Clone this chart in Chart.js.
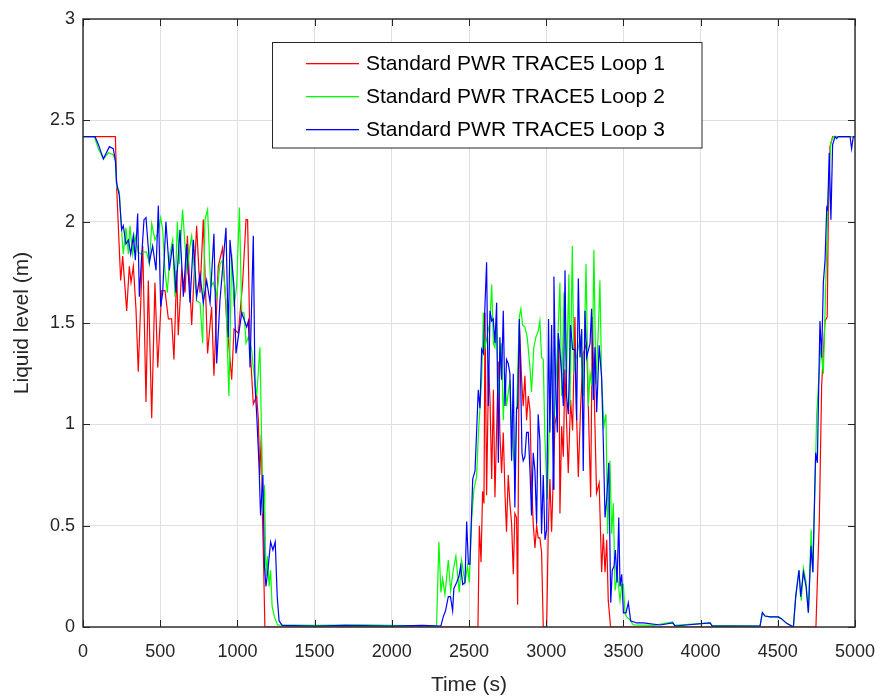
<!DOCTYPE html>
<html>
<head>
<meta charset="utf-8">
<script src="https://cdn.jsdelivr.net/npm/chart.js@4.4.1/dist/chart.umd.min.js"></script>
<style>
  html, body { margin: 0; padding: 0; background: #ffffff; }
  #c { display: block; }
</style>
</head>
<body>
<canvas id="c" width="883" height="698"></canvas>
<script>
// ---------------- DATA ----------------
const seriesNames = ['Standard PWR TRACE5 Loop 1', 'Standard PWR TRACE5 Loop 2', 'Standard PWR TRACE5 Loop 3'];
const xTickValues = [0, 500, 1000, 1500, 2000, 2500, 3000, 3500, 4000, 4500, 5000];
const yTickValues = [0, 0.5, 1, 1.5, 2, 2.5, 3];
const xTitle = 'Time (s)';
const yTitle = 'Liquid level (m)';

const loop1Time = [0, 210, 218, 244, 257, 283, 300, 311, 326, 343, 358, 387, 408, 423, 445, 466, 484, 510, 531, 553, 574, 589, 607, 617, 639, 661, 676, 704, 736, 758, 779, 807, 833, 848, 876, 904, 930, 963, 978, 1006, 1034, 1056, 1066, 1082, 1103, 1125, 1136, 1145, 1155, 1162, 1170, 1178,
  2558, 2567, 2578, 2588, 2597, 2604, 2614, 2627, 2636, 2647, 2658, 2668, 2690, 2700, 2711, 2722, 2733, 2743, 2754, 2765, 2776, 2787, 2797, 2808, 2815, 2826, 2841, 2851, 2862, 2873, 2884, 2895, 2905, 2916, 2927, 2938, 2948, 2959, 2970, 2981, 3003, 3014, 3024, 3035, 3046, 3057, 3068, 3082, 3089, 3100, 3111, 3121, 3132, 3143, 3158, 3171, 3186, 3197, 3208, 3223, 3240, 3262, 3288, 3299, 3311, 3326, 3343, 3359, 3370, 3381, 3392, 3402, 3417,
  4747, 4769, 4784, 4806, 4820, 4827, 4838, 4855, 5000];
const loop1Level = [2.42, 2.42, 2.17, 1.71, 1.83, 1.56, 1.78, 1.70, 1.78, 1.57, 1.26, 1.88, 1.11, 1.71, 1.03, 1.70, 1.28, 1.66, 1.66, 1.52, 1.52, 1.32, 1.76, 1.44, 1.76, 1.65, 1.93, 1.49, 1.98, 1.65, 2.01, 1.35, 1.58, 1.24, 1.78, 1.87, 1.52, 1.22, 1.47, 1.45, 1.70, 2.01, 2.01, 1.38, 1.10, 1.14, 1.02, 0.75, 0.95, 0.55, 0.30, 0.0,
  0.0, 0.50, 0.32, 0.67, 0.61, 1.55, 0.65, 1.28, 1.12, 0.73, 1.17, 0.64, 1.31, 0.96, 0.76, 0.96, 0.66, 0.47, 0.75, 0.61, 0.51, 0.26, 0.56, 0.54, 0.11, 1.49, 1.22, 1.09, 1.24, 1.02, 1.14, 1.07, 0.71, 0.51, 0.39, 0.50, 0.44, 0.44, 0.37, 0.0, 0.0, 0.50, 0.73, 0.47, 0.74, 1.00, 1.05, 1.42, 0.56, 0.99, 0.84, 1.27, 1.01, 0.76, 1.12, 0.97, 1.53, 1.04, 0.74, 1.09, 1.35, 1.40, 0.64, 1.53, 1.15, 0.66, 0.71, 0.27, 0.46, 0.27, 0.43, 0.13, 0.0,
  0.0, 0.53, 1.19, 1.51, 1.53, 2.01, 2.37, 2.42, 2.42];

const loop2Time = [0, 73, 100, 132, 165, 196, 210, 218, 235, 250, 261, 278, 294, 304, 322, 337, 358, 373, 391, 412, 430, 445, 466, 488, 503, 516, 531, 546, 563, 581, 596, 611, 624, 645, 661, 676, 693, 704, 719, 736, 758, 775, 790, 807, 827, 844, 866, 887, 904, 926, 945, 963, 978, 995, 1013, 1028, 1043, 1056, 1071, 1092, 1103, 1125, 1146, 1155, 1165, 1175, 1185, 1195, 1205, 1215, 1225, 1240, 1260, 1500, 1800, 2000, 2290,
  2305, 2318, 2329, 2344, 2366, 2381, 2398, 2415, 2437, 2452, 2474, 2490, 2502, 2517, 2532, 2549, 2560, 2582, 2593, 2604, 2636, 2647, 2658, 2668, 2679, 2690, 2711, 2722, 2733, 2743, 2765, 2776, 2797, 2826, 2836, 2847, 2862, 2877, 2895, 2905, 2920, 2933, 2948, 2959, 2970, 2981, 2992, 3007, 3020, 3035, 3046, 3072, 3089, 3100, 3115, 3132, 3147, 3154, 3169, 3180, 3208, 3223, 3240, 3258, 3273, 3284, 3297, 3309, 3322, 3338, 3348, 3359, 3374, 3387, 3398, 3413, 3424, 3435, 3446, 3461, 3478, 3489, 3500, 3510, 3521, 3543, 3564,
  3700, 3819, 3830, 4061, 4075, 4385, 4400, 4417, 4450, 4503, 4525, 4557, 4590, 4601, 4616, 4637, 4652, 4666, 4683, 4698, 4716, 4727, 4752, 4778, 4795, 4813, 4827, 4843, 4860, 5000];
const loop2Level = [2.42, 2.42, 2.36, 2.31, 2.34, 2.33, 2.30, 2.17, 2.15, 1.96, 1.84, 1.97, 1.84, 1.98, 1.84, 1.93, 1.85, 1.84, 1.85, 1.85, 1.79, 1.99, 1.91, 1.95, 2.02, 1.96, 1.76, 1.65, 1.84, 1.91, 1.63, 2.00, 1.79, 2.06, 1.88, 1.76, 1.88, 1.93, 1.78, 1.61, 1.60, 1.40, 2.01, 2.06, 1.68, 1.70, 1.63, 1.79, 1.81, 1.61, 1.14, 1.84, 1.58, 1.68, 2.07, 1.55, 1.55, 1.40, 1.43, 1.37, 1.28, 1.14, 1.38, 1.00, 0.56, 0.70, 0.25, 0.35, 0.20, 0.28, 0.10, 0.05, 0.01, 0.008, 0.01, 0.008, 0.005,
  0.42, 0.17, 0.24, 0.16, 0.33, 0.18, 0.28, 0.35, 0.17, 0.33, 0.22, 0.30, 0.22, 0.53, 0.68, 0.74, 0.94, 1.22, 1.55, 1.38, 1.51, 1.69, 1.40, 1.38, 1.48, 1.14, 1.40, 1.02, 1.25, 1.09, 1.22, 0.99, 0.76, 1.53, 1.57, 1.49, 1.48, 1.43, 1.28, 1.16, 1.38, 1.43, 1.46, 1.51, 1.33, 1.32, 0.92, 0.63, 0.99, 1.38, 0.92, 1.36, 1.70, 1.14, 1.65, 1.25, 1.74, 1.09, 1.88, 1.27, 1.38, 1.43, 1.14, 1.79, 1.09, 1.25, 1.19, 1.86, 1.20, 1.47, 1.71, 1.22, 0.99, 1.05, 0.46, 0.82, 0.46, 0.61, 0.18, 0.26, 0.13, 0.21, 0.21, 0.07, 0.05, 0.035, 0.01,
  0.008, 0.025, 0.008, 0.02, 0.008, 0.005, 0.07, 0.054, 0.05, 0.05, 0.04, 0.018, 0.005, 0.0, 0.15, 0.28, 0.13, 0.29, 0.22, 0.07, 0.48, 0.27, 1.05, 1.38, 1.25, 1.76, 2.14, 2.39, 2.42, 2.42];

const loop3Time = [0, 78, 100, 132, 171, 196, 210, 218, 235, 250, 261, 278, 294, 309, 326, 339, 354, 365, 380, 395, 408, 430, 451, 473, 488, 503, 516, 537, 559, 581, 602, 628, 650, 671, 693, 715, 736, 758, 779, 801, 823, 848, 866, 887, 926, 941, 952, 978, 991, 1028, 1060, 1071, 1082, 1103, 1114, 1125, 1140, 1150, 1165, 1175, 1185, 1200, 1215, 1230, 1245, 1258, 1270, 1290, 1500, 1700, 2000, 2200, 2318,
  2333, 2348, 2366, 2380, 2394, 2402, 2420, 2435, 2446, 2459, 2474, 2485, 2496, 2506, 2524, 2539, 2549, 2560, 2571, 2582, 2593, 2604, 2614, 2625, 2636, 2647, 2657, 2668, 2679, 2690, 2700, 2711, 2722, 2733, 2743, 2754, 2765, 2776, 2787, 2797, 2808, 2815, 2826, 2834, 2843, 2851, 2862, 2873, 2884, 2895, 2905, 2916, 2927, 2938, 2948, 2959, 2970, 2981, 2992, 3003, 3015, 3024, 3035, 3046, 3050, 3061, 3072, 3078, 3089, 3100, 3111, 3122, 3132, 3143, 3158, 3171, 3186, 3197, 3208, 3219, 3230, 3240, 3251, 3262, 3284, 3294, 3305, 3316, 3327, 3343, 3359, 3370, 3381, 3392, 3405, 3418, 3428, 3439, 3448, 3459, 3470, 3478, 3489, 3500, 3517, 3532, 3547, 3586, 3629, 3737,
  3819, 3835, 4061, 4075, 4385, 4400, 4417, 4450, 4503, 4525, 4557, 4590, 4601, 4616, 4637, 4648, 4666, 4683, 4698, 4715, 4727, 4745, 4756, 4773, 4784, 4795, 4806, 4817, 4823, 4833, 4844, 4855, 4871, 4881, 4892, 4968, 4978, 4989, 5000];
const loop3Level = [2.42, 2.42, 2.38, 2.31, 2.37, 2.36, 2.30, 2.19, 2.13, 1.96, 1.98, 1.89, 1.91, 1.84, 1.93, 1.81, 2.04, 1.63, 1.83, 2.01, 2.02, 1.80, 1.88, 1.76, 2.08, 1.58, 1.65, 2.00, 1.76, 1.89, 1.65, 1.96, 1.63, 1.89, 1.60, 1.91, 1.63, 1.74, 1.60, 1.71, 1.60, 1.94, 1.30, 1.61, 1.97, 1.43, 1.91, 1.68, 1.35, 1.55, 1.48, 1.51, 1.28, 1.93, 1.19, 1.05, 0.80, 0.55, 0.75, 0.30, 0.20, 0.30, 0.42, 0.38, 0.42, 0.15, 0.03, 0.008, 0.005, 0.008, 0.005, 0.008, 0.005,
  0.05, 0.08, 0.15, 0.15, 0.08, 0.19, 0.22, 0.25, 0.30, 0.21, 0.22, 0.52, 0.31, 0.31, 0.73, 0.77, 0.96, 1.17, 1.08, 1.37, 1.35, 1.60, 1.80, 1.09, 1.56, 1.51, 1.52, 1.40, 1.60, 0.81, 1.43, 1.22, 1.56, 1.09, 1.32, 1.30, 1.25, 0.82, 1.25, 0.59, 1.08, 1.08, 1.52, 1.25, 0.86, 0.82, 0.84, 0.96, 0.96, 0.77, 0.55, 0.86, 0.77, 0.51, 1.05, 0.92, 0.46, 0.75, 0.43, 0.48, 1.52, 0.96, 1.49, 0.68, 1.73, 1.20, 0.96, 1.45, 1.36, 1.25, 1.09, 1.76, 1.14, 1.05, 1.49, 1.37, 1.37, 1.02, 1.72, 1.33, 1.47, 0.77, 1.56, 1.33, 1.40, 1.57, 1.12, 1.38, 1.06, 1.39, 1.23, 0.91, 0.54, 0.63, 0.81, 0.12, 0.28, 0.30, 0.38, 0.22, 0.54, 0.20, 0.26, 0.07, 0.07, 0.12, 0.03, 0.02, 0.02, 0.01,
  0.02, 0.005, 0.02, 0.005, 0.005, 0.072, 0.054, 0.05, 0.05, 0.04, 0.018, 0.005, 0.0, 0.15, 0.28, 0.15, 0.27, 0.20, 0.07, 0.40, 0.27, 0.86, 0.81, 1.51, 1.33, 1.70, 1.81, 2.07, 2.06, 2.34, 2.01, 2.38, 2.42, 2.41, 2.42, 2.42, 2.36, 2.42, 2.42];

const seriesColors = ['rgb(255,0,0)', 'rgb(0,255,0)', 'rgb(0,0,255)'];

// ---------------- CHART ----------------
const FONT = "'Liberation Sans', Arial, Helvetica, sans-serif";
const AX = '#262626';

function pts(t, v) { return t.map((x, i) => ({ x: x, y: v[i] })); }

const series = [pts(loop1Time, loop1Level), pts(loop2Time, loop2Level), pts(loop3Time, loop3Level)];

const matlabPlugin = {
  id: 'matlabAxes',
  afterDraw(chart) {
    const ctx = chart.ctx;
    const a = chart.chartArea;
    const xs = chart.scales.x, ys = chart.scales.y;
    ctx.save();
    ctx.setLineDash([]);
    ctx.globalAlpha = 1;
    ctx.strokeStyle = AX;
    ctx.lineWidth = 1;
    const TL = 7;
    ctx.beginPath();
    xTickValues.forEach(v => {
      const px = Math.round(xs.getPixelForValue(v)) + 0.5;
      ctx.moveTo(px, a.bottom); ctx.lineTo(px, a.bottom - TL);
      ctx.moveTo(px, a.top); ctx.lineTo(px, a.top + TL);
    });
    yTickValues.forEach(v => {
      const py = Math.round(ys.getPixelForValue(v)) + 0.5;
      ctx.moveTo(a.left, py); ctx.lineTo(a.left + TL, py);
      ctx.moveTo(a.right, py); ctx.lineTo(a.right - TL, py);
    });
    ctx.stroke();
    ctx.lineWidth = 1.4;
    ctx.strokeRect(a.left, a.top, a.right - a.left, a.bottom - a.top);

    // legend
    const lx = 272.5, ly = 42.5, lw = 429.5, lh = 105.5;
    ctx.fillStyle = '#ffffff';
    ctx.fillRect(lx, ly, lw, lh);
    ctx.lineWidth = 1;
    ctx.strokeStyle = AX;
    ctx.strokeRect(lx, ly, lw, lh);
    const rows = [63, 96, 129];
    ctx.font = '21px ' + FONT;
    ctx.textBaseline = 'middle';
    ctx.textAlign = 'left';
    for (let i = 0; i < seriesNames.length; i++) {
      ctx.fillStyle = seriesColors[i];
      ctx.fillRect(306, rows[i], 53, 1.3);
      ctx.fillStyle = '#000000';
      ctx.fillText(seriesNames[i], 366, rows[i] + 1);
    }
    ctx.restore();
  }
};

new Chart(document.getElementById('c'), {
  type: 'line',
  data: {
    datasets: series.map((d, i) => ({
      label: seriesNames[i],
      data: d,
      borderColor: seriesColors[i],
      backgroundColor: seriesColors[i],
      borderWidth: 1.2,
      pointRadius: 0,
      tension: 0,
      fill: false,
      order: 3 - i
    }))
  },
  options: {
    responsive: false,
    animation: false,
    devicePixelRatio: 1,
    layout: { padding: { top: 19, right: 28, bottom: 0, left: 0 } },
    plugins: { legend: { display: false }, tooltip: { enabled: false } },
    scales: {
      x: {
        type: 'linear',
        min: 0, max: 5000,
        afterBuildTicks: s => { s.ticks = xTickValues.map(v => ({ value: v })); },
        afterFit: s => { s.height = 71; s.paddingRight = 0; s.paddingLeft = 0; },
        grid: { color: '#dfdfdf', lineWidth: 1, drawTicks: false },
        border: { display: false },
        ticks: { color: AX, font: { family: FONT, size: 18 }, padding: 14, maxRotation: 0, autoSkip: false,
                 callback: v => String(v) },
        title: { display: true, text: xTitle, color: AX, font: { family: FONT, size: 21 }, padding: { top: 0, bottom: 0 } }
      },
      y: {
        type: 'linear',
        min: 0, max: 3,
        afterBuildTicks: s => { s.ticks = yTickValues.map(v => ({ value: v })); },
        afterFit: s => { s.width = 83; s.paddingTop = 0; s.paddingBottom = 0; },
        grid: { color: '#dfdfdf', lineWidth: 1, drawTicks: false },
        border: { display: false },
        ticks: { color: AX, font: { family: FONT, size: 18 }, padding: 8, autoSkip: false,
                 callback: v => String(v) },
        title: { display: true, text: yTitle, color: AX, font: { family: FONT, size: 21 }, padding: { top: 10, bottom: 0 } }
      }
    }
  },
  plugins: [matlabPlugin]
});
</script>
</body>
</html>
